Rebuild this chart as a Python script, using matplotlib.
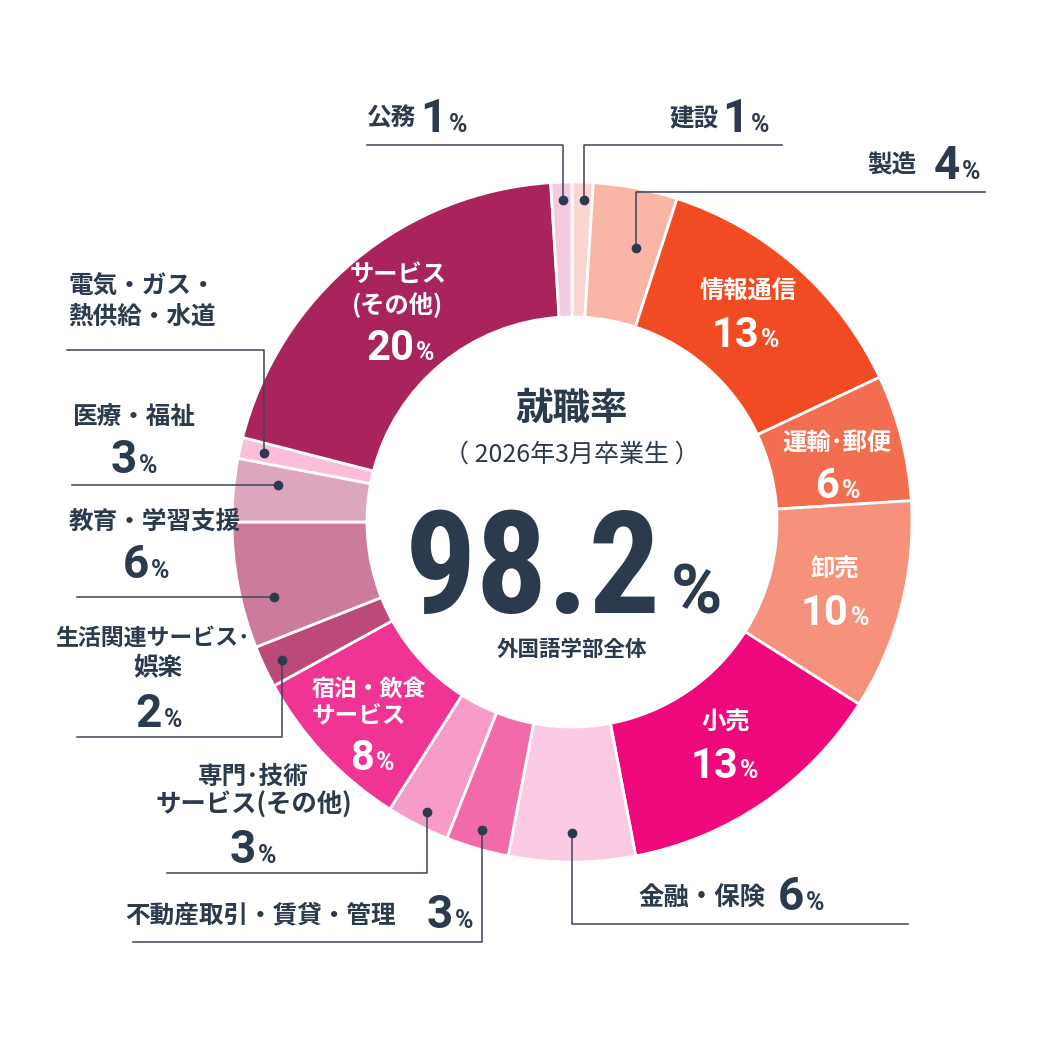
import matplotlib
matplotlib.use("Agg")
import matplotlib.pyplot as plt

plt.rcParams['font.family'] = ['Noto Sans CJK JP', 'DejaVu Sans']

# industries, clockwise from 12 o'clock
industries = ['建設', '製造', '情報通信', '運輸・郵便', '卸売', '小売', '金融・保険',
              '不動産取引・賃貸・管理', '専門・技術サービス(その他)', '宿泊・飲食サービス',
              '生活関連サービス・娯楽', '教育・学習支援', '医療・福祉',
              '電気・ガス・熱供給・水道', 'サービス(その他)', '公務']
shares = [1, 4, 13, 6, 10, 13, 6, 3, 3, 8, 2, 6, 3, 1, 20, 1]
colors = ['#fbd6d0', '#f9b6a6', '#f14b24', '#f36e51', '#f6917b', '#ee087b', '#fbcae3',
          '#f26aaa', '#f79bc9', '#ef3493', '#bb4a7b', '#cd7b9c', '#dca7be',
          '#fbbdda', '#a9245d', '#f3cade']

employment_rate = '98.2'
title = '就職率'
subtitle = '（ 2026年3月卒業生 ）'
faculty = '外国語学部全体'

NAVY = '#2c3a4d'
NUM = ['Roboto', 'DejaVu Sans']
CX, CY, R, W = 572, 522, 340, 135

fig = plt.figure(figsize=(10.42, 10.42), dpi=100)
ax = fig.add_axes([0, 0, 1, 1])
ax.pie(shares, colors=colors, startangle=-90, counterclock=True, radius=R,
       center=(CX, CY), wedgeprops=dict(width=W, edgecolor='white', linewidth=2))
ax.set_xlim(0, 1042)
ax.set_ylim(1042, 0)
ax.set_aspect('equal')
ax.axis('off')


def pct(xs, yb, num, color, nsize, psize, gap=2, fam=NUM):
    ax.text(xs, yb, num, ha='right', va='baseline', fontsize=nsize,
            fontweight='bold', color=color, family=fam)
    ax.text(xs + gap, yb, '%', ha='left', va='baseline', fontsize=psize,
            fontweight='bold', color=color, family=NUM)


def jp(x, y, s, color, size, ha='center', weight='bold'):
    ax.text(x, y, s, ha=ha, va='center', fontsize=size, fontweight=weight,
            color=color, linespacing=1.2)


LS = 17.7  # outer label size
IS = 17.5  # inner label size

# labels inside the ring (white)
inner = {
    '情報通信': ((748, 292), None, (759, 347)),
    '運輸・郵便': ((837, 443), None, (840, 498)),
    '卸売': ((835, 570), None, (849, 625)),
    '小売': ((726, 723), None, (738, 778)),
    'サービス(その他)': ((398, 275), (397, 305), (414, 360)),
}
inner_text = {'運輸・郵便': '運輸･郵便', 'サービス(その他)': 'サービス\n(その他)'}
for name, (p1, p2, pp) in inner.items():
    v = shares[industries.index(name)]
    s = inner_text.get(name, name)
    if p2 is None:
        jp(p1[0], p1[1], s, 'white', IS)
    else:
        jp(p1[0], p1[1], s.split('\n')[0], 'white', IS)
        jp(p2[0], p2[1], s.split('\n')[1], 'white', IS)
    pct(pp[0], pp[1], str(v), 'white', 30, 18)

# 宿泊・飲食 (left aligned two lines)
v = shares[industries.index('宿泊・飲食サービス')]
jp(312, 690, '宿泊・飲食', 'white', 16.5, ha='left')
jp(312, 715, 'サービス', 'white', 17, ha='left')
pct(374, 770, str(v), 'white', 30, 18)

# outside labels with leader lines
ld = dict(color='#3a4556', lw=1.1)


def leader(pts, dot):
    xs, ys = zip(*pts)
    ax.plot(xs, ys, **ld)
    ax.plot(dot[0], dot[1], 'o', color='#2c3a4d', ms=6)


# 公務
leader([(367, 145), (563, 145), (563, 200)], (563, 200))
jp(392, 119, '公務', NAVY, LS)
pct(447, 132, str(shares[industries.index('公務')]), NAVY, 33, 18)
# 建設
leader([(782, 145), (584, 145), (584, 200)], (584, 200))
jp(694, 119, '建設', NAVY, LS)
pct(749, 132, str(shares[industries.index('建設')]), NAVY, 33, 18)
# 製造
leader([(985, 192), (636, 192), (636, 248)], (636, 248))
jp(892, 165, '製造', NAVY, LS)
pct(960, 179, str(shares[industries.index('製造')]), NAVY, 33, 18)
# 電気・ガス・熱供給・水道
leader([(67, 350), (264, 350), (264, 453)], (264, 453))
jp(68, 287, '電気・ガス・', NAVY, LS, ha='left')
jp(68, 317, '熱供給・水道', NAVY, LS, ha='left')
# 医療・福祉
leader([(72, 485), (278, 485)], (278, 485))
jp(134, 417, '医療・福祉', NAVY, LS)
pct(137, 473, str(shares[industries.index('医療・福祉')]), NAVY, 33, 18)
# 教育・学習支援
leader([(77, 597), (274, 597)], (274, 597))
jp(155, 522, '教育・学習支援', NAVY, LS)
pct(149, 578, str(shares[industries.index('教育・学習支援')]), NAVY, 33, 18)
# 生活関連サービス・娯楽
leader([(77, 737), (282, 737), (282, 660)], (282, 660))
jp(153, 638, '生活関連サービス･', NAVY, 16.5)
jp(158, 668, '娯楽', NAVY, LS)
pct(162, 727, str(shares[industries.index('生活関連サービス・娯楽')]), NAVY, 33, 18)
# 専門・技術サービス(その他)
leader([(167, 873), (427, 873), (427, 812)], (427, 812))
jp(253, 777, '専門･技術', NAVY, LS)
jp(254, 805, 'サービス(その他)', NAVY, 18.3)
pct(256, 863, str(shares[industries.index('専門・技術サービス(その他)')]), NAVY, 33, 18)
# 不動産取引・賃貸・管理
leader([(133, 942), (482, 942), (482, 830)], (482, 830))
jp(260, 915, '不動産取引・賃貸・管理', NAVY, LS)
pct(453, 928, str(shares[industries.index('不動産取引・賃貸・管理')]), NAVY, 33, 18)
# 金融・保険
leader([(908, 924), (572, 924), (572, 833)], (572, 833))
jp(702, 898, '金融・保険', NAVY, 18.3)
pct(804, 910, str(shares[industries.index('金融・保険')]), NAVY, 33, 18)

# centre text
jp(CX, 408, title, NAVY, 27)
jp(CX, 455, subtitle, NAVY, 18, weight='normal')
pct(661, 613, employment_rate, NAVY, 102, 50, gap=10,
    fam=['Roboto Condensed', 'Roboto', 'DejaVu Sans'])
jp(CX, 650, faculty, NAVY, 15.5)

fig.savefig('out.png', dpi=100)
